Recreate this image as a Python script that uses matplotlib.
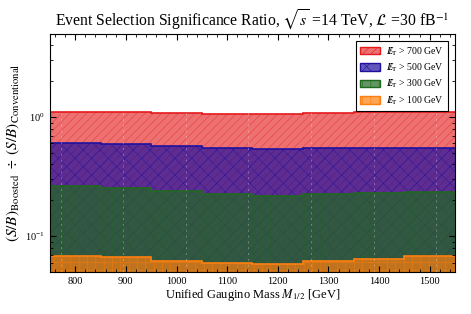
import numpy as np
import matplotlib
matplotlib.use('Agg')
import matplotlib.pyplot as plt
from matplotlib.ticker import MultipleLocator
from matplotlib.patches import Patch

plt.rcParams['font.family'] = ['Liberation Serif', 'DejaVu Serif']
plt.rcParams['mathtext.fontset'] = 'stix'
plt.rcParams['hatch.linewidth'] = 0.4

# bin edges of M_1/2 [GeV]
edges = [750, 850, 950, 1050, 1150, 1250, 1350, 1450, 1550]
# significance ratio per bin, one list per MET cut
met_700 = [1.10, 1.094, 1.081, 1.06, 1.06, 1.073, 1.10, 1.094]
met_500 = [0.608, 0.597, 0.574, 0.548, 0.541, 0.552, 0.552, 0.548]
met_300 = [0.262, 0.256, 0.240, 0.224, 0.219, 0.224, 0.231, 0.235]
met_100 = [0.0686, 0.0667, 0.0622, 0.059, 0.0582, 0.0613, 0.0647, 0.0676]
labels = ['700', '500', '300', '100']
# faint seams seen in the original raster
seam_x = [771, 895, 1018, 1141, 1266, 1390, 1513]

series = [met_700, met_500, met_300, met_100]
colors = ['#e41a1c', '#2010a0', '#206a20', '#ff7f0e']
alphas = [0.62, 0.7, 0.7, 0.7]
hatches = ['////', 'xx', '||', '++']
ybot = 0.05

fig = plt.figure(figsize=(4.71, 3.14), dpi=100)
ax = fig.add_axes([0.106, 0.134, 0.86, 0.758])

handles = []
for vals, c, a, h, lab in zip(series, colors, alphas, hatches, labels):
    ax.stairs(vals, edges, baseline=ybot, fill=True, facecolor=c, alpha=a,
              edgecolor=c, hatch=h, linewidth=0)
    ax.stairs(vals, edges, baseline=None, color=c, linewidth=1.2)
    handles.append(Patch(facecolor=matplotlib.colors.to_rgba(c, a), edgecolor=c,
                         hatch=h, linewidth=1.0,
                         label=r'$E\!\!\!/_{\mathrm{T}}$ > ' + lab + ' GeV'))

for xs in seam_x:
    ax.axvline(xs, color='white', alpha=0.3, lw=0.7, ls=(0, (2, 4)))

ax.set_yscale('log')
ax.set_ylim(ybot, 5)
ax.set_xlim(750, 1550)
ax.xaxis.set_major_locator(MultipleLocator(100))
ax.xaxis.set_minor_locator(MultipleLocator(20))
ax.tick_params(which='both', direction='in', top=True, right=True, labelsize=7.5)
ax.tick_params(which='major', length=4)
ax.tick_params(which='minor', length=2)

ax.set_xlabel(r'Unified Gaugino Mass $M_{1/2}$ [GeV]', fontsize=9, labelpad=1)
ax.set_ylabel(r'$(S/B)_{\rm Boosted}\ \div\ (S/B)_{\rm Conventional}$', fontsize=11, labelpad=2)
ax.set_title(r'Event Selection Significance Ratio, $\sqrt{s}$ =14 TeV, $\mathcal{L}$ =30 fB$^{-1}$',
             fontsize=11.3, pad=6)

leg = ax.legend(handles=handles, loc='upper right', fontsize=7, fancybox=False,
                edgecolor='black', framealpha=1, handlelength=2.0, handleheight=0.8,
                borderpad=0.4, labelspacing=0.4, handletextpad=0.7,
                bbox_to_anchor=(0.995, 0.99))
leg.get_frame().set_linewidth(0.8)

fig.savefig('out.png', dpi=100)
